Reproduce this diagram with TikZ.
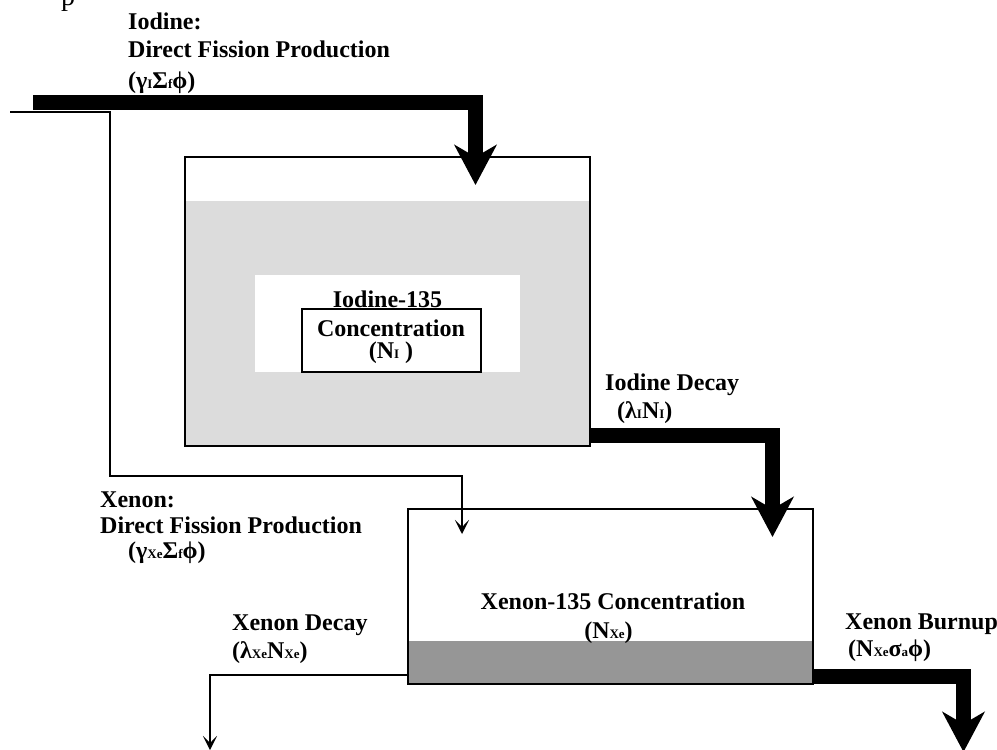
\documentclass[tikz,border=0pt]{standalone}
\usepackage{fontspec}
\setmainfont{Liberation Serif}
\usetikzlibrary{arrows.meta,positioning}
\definecolor{iodgray}{RGB}{220,220,220}
\definecolor{xegray}{RGB}{150,150,150}
\newcommand{\lo}[1]{{\fontsize{13}{13}\selectfont #1}}
\begin{document}
\begin{tikzpicture}[x=1pt,y=-1pt,
  lbl/.style={font=\fontsize{24}{28}\selectfont\bfseries, inner sep=0pt, anchor=base west},
  mid/.style={font=\fontsize{24}{28}\selectfont\bfseries, inner sep=0pt, anchor=base},
  flow/.style={line width=15pt, -{Stealth[length=40pt,width=42pt,inset=12pt]}},
  thinflow/.style={line width=2pt, -{Stealth[length=14pt,width=14pt,inset=7pt]}},
  tank/.style={draw, line width=2pt, inner sep=0pt}]
\useasboundingbox (0,0) rectangle (997,750);
\node[tank, minimum width=405pt, minimum height=289pt,
  path picture={\fill[iodgray] (path picture bounding box.south west) rectangle ([yshift=-44pt]path picture bounding box.north east);}] (ibox) at (387.5,301.5) {};
\node[fill=white, inner sep=0pt, minimum width=265pt, minimum height=97pt] (iwin) at (387.5,323.5) {};
\node[draw, line width=2pt, inner sep=0pt, minimum width=179pt, minimum height=63pt] (ninner) at (391.5,340.5) {};
\node[tank, fill=white, minimum width=405pt, minimum height=175pt,
  path picture={\fill[xegray] (path picture bounding box.south west) rectangle ([yshift=43pt]path picture bounding box.south east);}] (xbox) at (610.5,596.5) {};

\node[mid] (itxt1) at (387.5,307) {Iodine-135};
\node[mid] (itxt2) at (391,336) {Concentration};
\node[mid] (itxt3) at (391,358) {(N\lo{I}~)};
\node[mid] (xtxt1) at (613,609) {Xenon-135 Concentration};
\node[mid] (xtxt2) at (608.5,638) {(N\lo{Xe})};

\coordinate (isrc) at (33,102.5);
\coordinate (itip) at (475.5,185);
\coordinate (dtip) at (772.5,537);
\coordinate (btip) at (963.5,752);
\coordinate (fsrc) at (10,112);
\coordinate (fbend) at (110,476);
\coordinate (xtip) at (462,534);
\coordinate (ddtip) at (210,750);
\draw[flow] (isrc) -| (itip);
\draw[flow] ([yshift=11.5pt]ibox.south east) -| (dtip);
\draw[flow] ([yshift=9pt]xbox.south east) -| (btip);
\draw[thinflow] (fsrc) -| (fbend) -| (xtip);
\draw[thinflow] ([yshift=10pt]xbox.south west) -| (ddtip);

\node[lbl] (ilab1) at (128,29) {Iodine:};
\node[lbl] (ilab2) at (128,57) {Direct Fission Production};
\node[lbl] (ilab3) at (128,88) {(γ\lo{I}Σ\lo{f}ϕ)};
\node[lbl] (xlab1) at (100,507) {Xenon:};
\node[lbl] (xlab2) at (100,533) {Direct Fission Production};
\node[lbl] (xlab3) at (128,558) {(γ\lo{Xe}Σ\lo{f}ϕ)};
\node[lbl] (xdlab1) at (232,630) {Xenon Decay};
\node[lbl] (xdlab2) at (232,658) {(λ\lo{Xe}N\lo{Xe})};
\node[lbl] (idlab1) at (605,390) {Iodine Decay};
\node[lbl] (idlab2) at (617,418) {(λ\lo{I}N\lo{I})};
\node[lbl] (bulab1) at (845,629) {Xenon Burnup};
\node[lbl] (bulab2) at (848,656) {(N\lo{Xe}σ\lo{a}ϕ)};
\node[font=\fontsize{28}{28}\selectfont, inner sep=0pt, anchor=base] (ptop) at (68,5) {p};
\end{tikzpicture}
\end{document}
